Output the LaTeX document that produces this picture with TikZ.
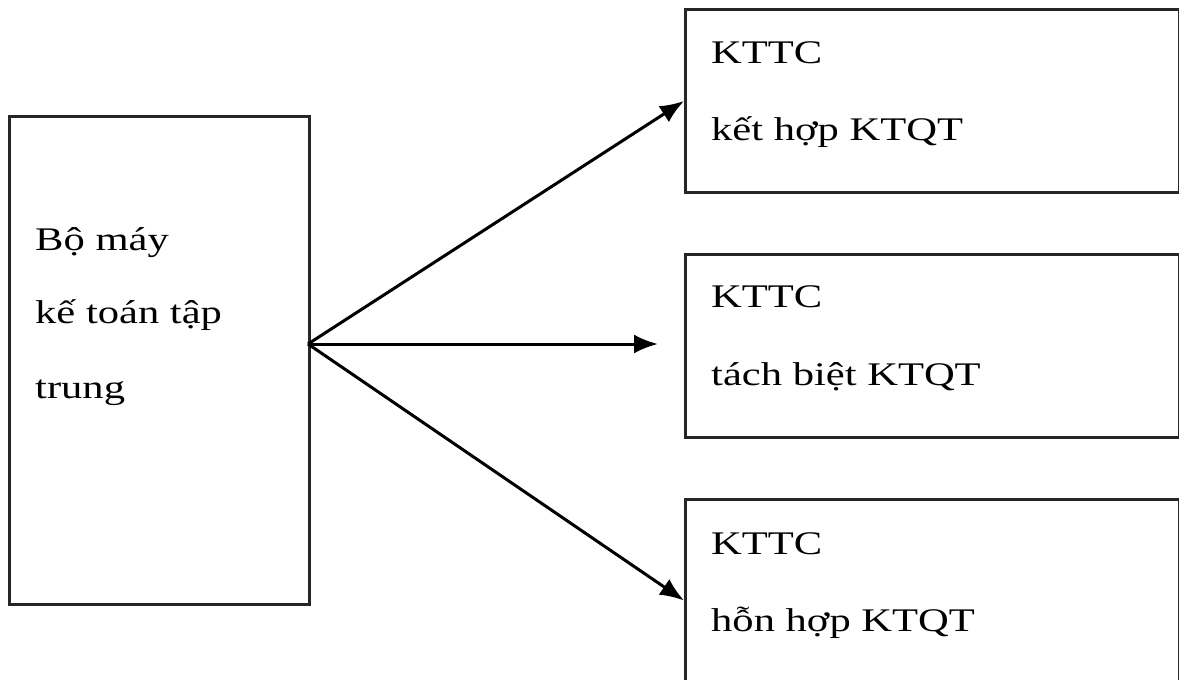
\documentclass[tikz,border=0pt]{standalone}
\usepackage{fontspec}
\setmainfont{Liberation Serif}
\newfontfamily\widefont[FakeStretch=1.29]{Liberation Serif}
\usetikzlibrary{arrows.meta}

\tikzset{
  frame/.style={draw=black!85, line width=3pt, inner sep=0pt, anchor=north west},
  label/.style={anchor=base west, inner sep=0pt, font=\widefont\fontsize{33}{33}\selectfont},
  link/.style={line width=3pt, -{Latex[length=24pt,width=19pt]}}
}

\begin{document}
\begin{tikzpicture}[x=1pt,y=-1pt]
  \useasboundingbox (0,0) rectangle (1179,680);
  \clip (0,0) rectangle (1179,680);

  % central accounting unit
  \node[frame, minimum width=300pt, minimum height=488pt] (bo) at (8,115) {};
  \node[label] (bo1) at (35,250) {Bộ máy};
  \node[label] (bo2) at (35,323) {kế toán tập};
  \node[label] (bo3) at (35,398) {trung};
  \coordinate (src) at (308,344);

  % three organisational variants
  \node[frame, minimum width=494pt, minimum height=183pt] (k1) at (684,8) {};
  \node[label] (k1a) at (711,63) {KTTC};
  \node[label] (k1b) at (711,140) {kết hợp KTQT};

  \node[frame, minimum width=494pt, minimum height=183pt] (k2) at (684,253) {};
  \node[label] (k2a) at (711,307) {KTTC};
  \node[label] (k2b) at (711,385) {tách biệt KTQT};

  \node[frame, minimum width=494pt, minimum height=202pt] (k3) at (684,498) {};
  \node[label] (k3a) at (711,554) {KTTC};
  \node[label] (k3b) at (711,631) {hỗn hợp KTQT};

  % connectors
  \draw[link] (src) -- (k1.west);
  \draw[link, shorten >=26pt] (src) -- (src -| k2.west);
  \draw[link] (src) -- (k3.west);
\end{tikzpicture}
\end{document}
